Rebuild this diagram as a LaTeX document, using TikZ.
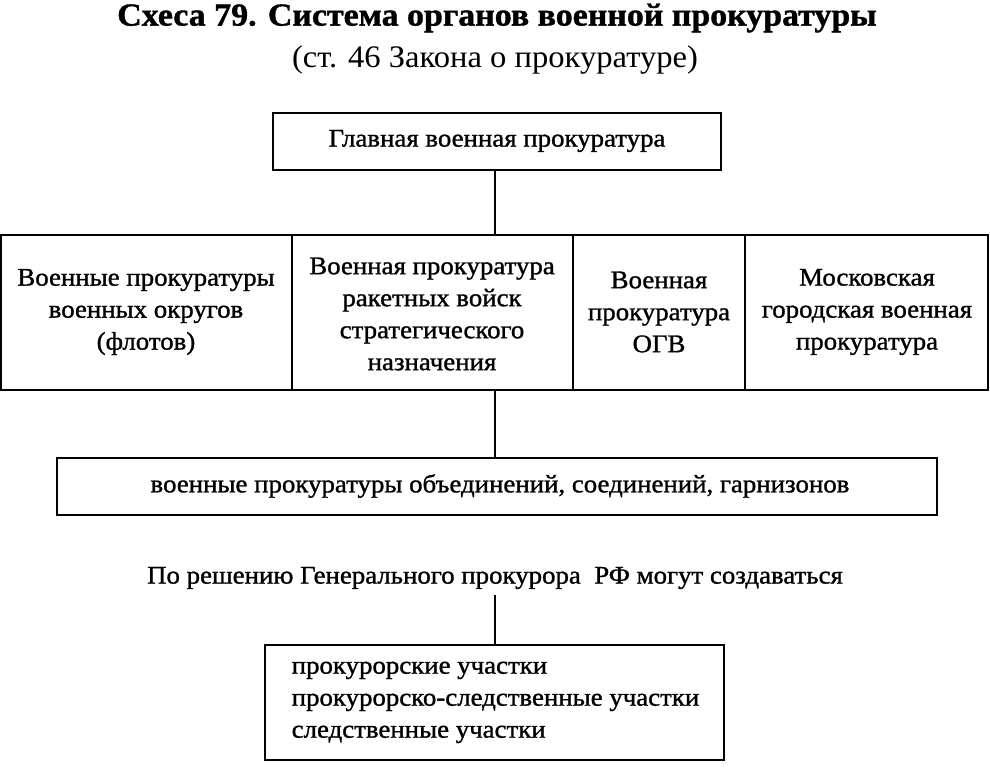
\documentclass[tikz,border=0pt]{standalone}
\usepackage{fontspec}
\setmainfont{Liberation Serif}[FakeStretch=1.06,FakeBold=1.2]
\newfontfamily\subfont{Liberation Serif}[FakeStretch=1.04]
\begin{document}
\begin{tikzpicture}[x=0.75pt,y=-0.75pt,
  box/.style={draw,line width=1.4pt,inner sep=0pt},
  lbl/.style={align=center,font=\fontsize{19}{24}\selectfont},
  conn/.style={line width=1.4pt}]
\useasboundingbox (0,0) rectangle (990,768);
\node (title) at (497,18) {\fontsize{24}{28}\selectfont\bfseries Схеса 79. Система органов военной прокуратуры};
\node (sub) at (495,60) {\subfont\fontsize{23.5}{26}\selectfont (ст. 46 Закона о прокуратуре)};
\draw[box] (273,113) rectangle (721,170);
\node[lbl] (g) at (497,141) {Главная военная прокуратура};
\coordinate (g1) at (495,170);
\coordinate (r1) at (495,235);
\draw[conn] (g1) -- (r1);
\draw[box] (1,235) rectangle (292,390);
\draw[box] (292,235) rectangle (573,390);
\draw[box] (573,235) rectangle (745,390);
\draw[box] (745,235) rectangle (988,390);
\node[lbl] (a) at (146,312) {Военные прокуратуры\\военных округов\\(флотов)};
\node[lbl] (b) at (432,314) {Военная прокуратура\\ракетных войск\\стратегического\\назначения};
\node[lbl] (c) at (659,312) {Военная\\прокуратура\\ОГВ};
\node[lbl] (d) at (867,312) {Московская\\городская военная\\прокуратура};
\coordinate (r2) at (495,390);
\coordinate (e1) at (495,458);
\draw[conn] (r2) -- (e1);
\draw[box] (57,458) rectangle (937,515);
\node[lbl] (e) at (500,486) {военные прокуратуры объединений, соединений, гарнизонов};
\node[lbl] (t) at (495,578) {По решению Генерального прокурора\ \ РФ могут создаваться};
\coordinate (t1) at (495,595);
\coordinate (f1) at (495,645);
\draw[conn] (t1) -- (f1);
\draw[box] (265,645) rectangle (724,760);
\node[lbl,align=left,anchor=north west] (f) at (287,657) {прокурорские участки\\прокурорско-следственные участки\\следственные участки};
\end{tikzpicture}
\end{document}
